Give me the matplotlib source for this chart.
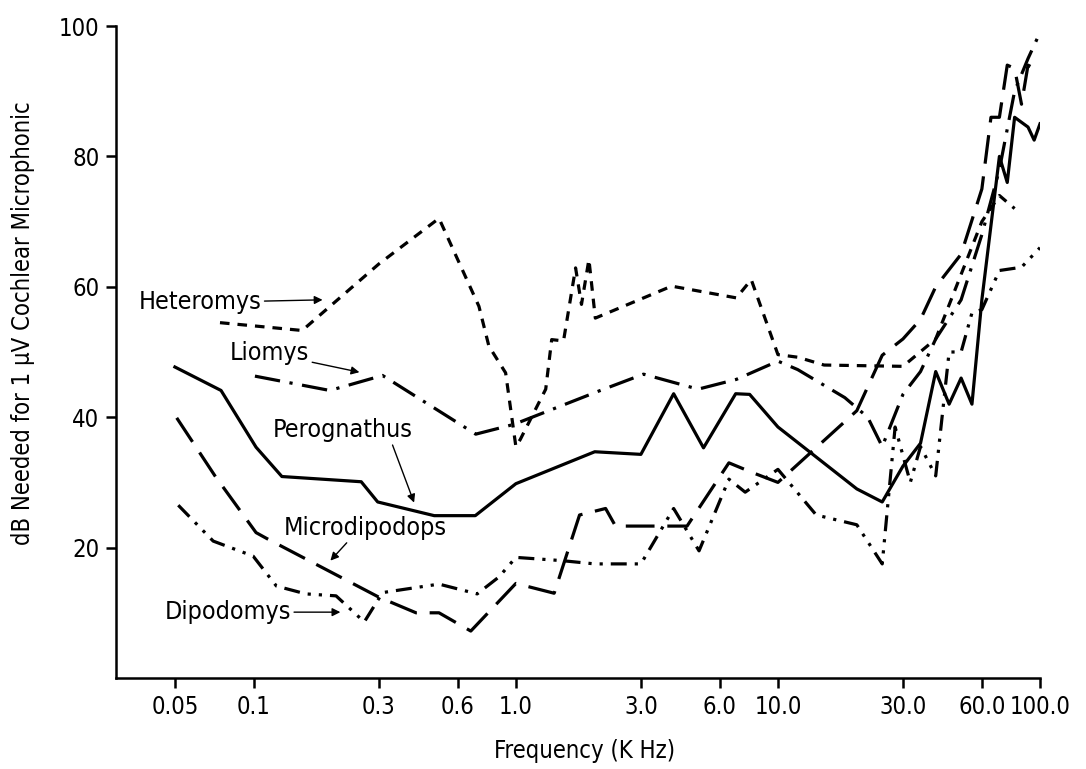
import matplotlib
matplotlib.use("Agg")
import matplotlib.pyplot as plt
from matplotlib.ticker import FixedLocator, NullLocator
from matplotlib import font_manager as fm

# ---- font choice: a narrow sans face if one is installed ----
_entries = fm.fontManager.ttflist
_names = {f.name for f in _entries}
if 'Liberation Sans Narrow' in _names:
    plt.rcParams['font.family'] = ['Liberation Sans Narrow', 'DejaVu Sans']
    SCALE = 1.0
elif 'DejaVu Sans Condensed' in _names:
    plt.rcParams['font.family'] = ['DejaVu Sans Condensed', 'DejaVu Sans']
    SCALE = 0.9
elif any(f.name == 'DejaVu Sans' and f.stretch not in ('normal', 500) for f in _entries):
    plt.rcParams['font.family'] = ['DejaVu Sans']
    plt.rcParams['font.stretch'] = 'condensed'
    SCALE = 0.9
else:
    plt.rcParams['font.family'] = ['Roboto', 'DejaVu Sans']
    SCALE = 0.85

# ---- data (frequency in kHz, dB) ----
pero_f = [0.05, 0.075, 0.102, 0.128, 0.257, 0.297, 0.488, 0.70, 1.0, 2.0, 3.0, 4.0, 5.2, 6.9, 7.8, 10, 20, 25, 30, 35, 40, 45, 50, 55, 60, 70, 75, 80, 90, 95, 100]
pero_v = [47.7, 44.1, 35.4, 30.9, 30.1, 27.0, 24.9, 24.9, 29.8, 34.7, 34.3, 43.6, 35.3, 43.6, 43.5, 38.5, 29, 27, 32.5, 36, 47, 42, 46, 42, 58, 80, 76, 86, 84.5, 82.5, 85]

micro_f = [0.0508, 0.0711, 0.102, 0.112, 0.3, 0.416, 0.509, 0.673, 1.0, 1.4, 1.75, 2.2, 2.4, 3.0, 4.5, 6.5, 8, 10, 20, 25, 30, 35, 40, 50, 60, 65, 70, 75, 80, 85, 90, 100]
micro_v = [39.9, 31.0, 22.3, 21.4, 12.4, 10.0, 10.0, 7.2, 14.5, 13, 25, 26, 23.3, 23.3, 23.3, 33, 31.5, 30, 41, 49.5, 52, 55, 60, 65, 75, 86, 86, 94, 93.5, 88, 94, 93]

lio_f = [0.101, 0.195, 0.310, 0.703, 0.983, 2.07, 3.07, 4.96, 6.94, 10.0, 11.9, 18, 22, 25, 30, 35, 40, 50, 60, 70, 80, 90, 100]
lio_v = [46.3, 44.1, 46.4, 37.4, 38.9, 44.0, 46.6, 44.3, 45.8, 48.6, 47.3, 43, 40, 35.5, 43.5, 47, 52, 58, 68, 78, 90, 95, 99]

het_f = [0.0743, 0.153, 0.3, 0.509, 0.723, 0.789, 0.914, 1.0, 1.04, 1.30, 1.37, 1.52, 1.69, 1.78, 1.90, 2.01, 3.93, 6.94, 7.91, 10.0, 11.9, 15, 30, 40, 60, 70, 80]
het_v = [54.5, 53.3, 63.5, 70.5, 57.0, 50.9, 46.8, 35.5, 36.6, 44.3, 51.9, 51.7, 62.9, 57.3, 64.2, 55.2, 60.1, 58.3, 61.1, 49.6, 49.2, 48, 47.8, 52, 70, 74, 72]

dipo_f = [0.0515, 0.07, 0.0994, 0.122, 0.158, 0.206, 0.264, 0.31, 0.509, 0.712, 0.862, 1.0, 1.5, 2.0, 3.0, 4.0, 5.0, 6.5, 7.5, 10, 14, 20, 25, 28, 32, 35, 40, 45, 50, 55, 60, 70, 85, 100]
dipo_v = [26.5, 21, 18.7, 14.1, 12.9, 12.6, 8.6, 13.1, 14.4, 12.9, 15.5, 18.5, 18, 17.5, 17.5, 26, 19.5, 30.5, 28.5, 32, 25, 23.5, 17.5, 38.5, 30, 35.5, 31, 50, 50, 56, 56.5, 62.5, 63, 66]

xticks = [0.05, 0.1, 0.3, 0.6, 1.0, 3.0, 6.0, 10.0, 30.0, 60.0, 100.0]
xtick_labels = ["0.05", "0.1", "0.3", "0.6", "1.0", "3.0", "6.0", "10.0", "30.0", "60.0", "100.0"]
yticks = [20, 40, 60, 80, 100]

TICK_FS = 19 * SCALE
TEXT_FS = 20 * SCALE
LABEL_FS = 19 * SCALE

fig = plt.figure(figsize=(10.86, 7.69), dpi=100)
ax = fig.add_axes([116/1086, 1 - 678/769, (1040 - 116)/1086, (678 - 26)/769])

lw = 2.3
ax.plot(pero_f, pero_v, color='black', lw=lw, linestyle='-')
ax.plot(micro_f, micro_v, color='black', lw=lw, linestyle=(0, (9, 4)))
ax.plot(lio_f, lio_v, color='black', lw=lw, linestyle=(0, (8, 3, 1, 3)))
ax.plot(het_f, het_v, color='black', lw=lw, linestyle=(0, (3, 2.5)))
ax.plot(dipo_f, dipo_v, color='black', lw=lw, linestyle=(0, (5, 2.5, 1, 2.5, 1, 2.5)))

ax.set_xscale('log')
ax.set_xlim(0.0298, 100)
ax.set_ylim(0, 100)
ax.xaxis.set_major_locator(FixedLocator(xticks))
ax.xaxis.set_minor_locator(NullLocator())
ax.set_xticklabels(xtick_labels)
ax.set_yticks(yticks)

for s in ['top', 'right']:
    ax.spines[s].set_visible(False)
for s in ['left', 'bottom']:
    ax.spines[s].set_linewidth(1.8)
ax.tick_params(axis='both', direction='out', length=7, width=1.8, labelsize=TICK_FS, pad=5)

ax.set_xlabel("Frequency (K Hz)", fontsize=LABEL_FS)
ax.set_ylabel("dB Needed for 1 \u03bcV Cochlear Microphonic", fontsize=LABEL_FS)
ax.xaxis.set_label_coords(0.507, -0.093)
ax.yaxis.set_label_coords(-0.088, 0.545)

arrow = dict(arrowstyle='-|>', color='black', lw=1.0, mutation_scale=12, shrinkA=0, shrinkB=0)
ax.annotate("Heteromys", xy=(0.183, 58.0), xytext=(0.1072, 57.6), fontsize=TEXT_FS,
            ha='right', va='center', arrowprops=arrow)
ax.annotate("Liomys", xy=(0.253, 46.9), xytext=(0.163, 49.8), fontsize=TEXT_FS,
            ha='right', va='center', arrowprops=arrow)
ax.annotate("Perognathus", xy=(0.409, 26.9), xytext=(0.218, 38.0), fontsize=TEXT_FS,
            ha='center', va='center', arrowprops=dict(arrow, relpos=(0.85, 0.0)))
ax.annotate("Microdipodops", xy=(0.196, 18.0), xytext=(0.267, 23.0), fontsize=TEXT_FS,
            ha='center', va='center', arrowprops=dict(arrow, relpos=(0.4, 0.0)))
ax.annotate("Dipodomys", xy=(0.214, 10.1), xytext=(0.139, 10.1), fontsize=TEXT_FS,
            ha='right', va='center', arrowprops=arrow)

fig.savefig("out.png", dpi=100)
